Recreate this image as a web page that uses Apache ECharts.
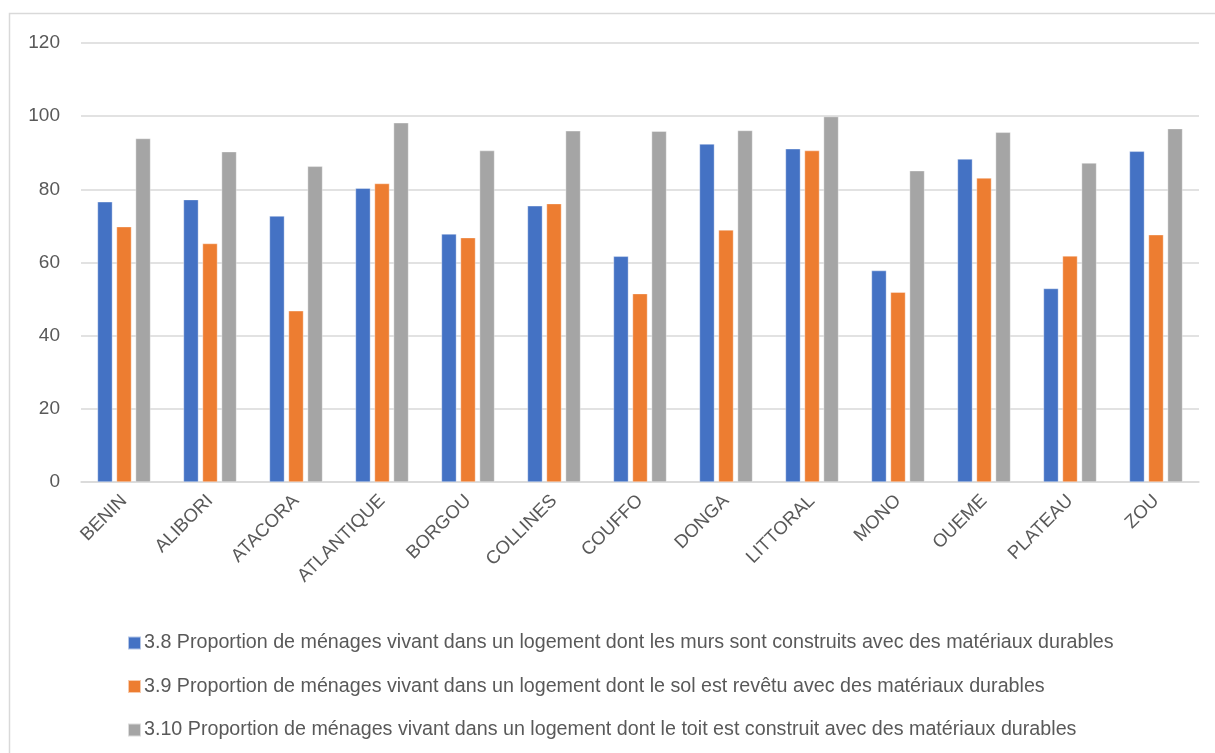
<!DOCTYPE html>
<html>
<head>
<meta charset="utf-8">
<script src="https://cdn.jsdelivr.net/npm/echarts@6/dist/echarts.min.js"></script>
<style>
  html, body { margin: 0; padding: 0; background: #ffffff; }
  #chart { width: 1215px; height: 753px; }
</style>
</head>
<body>
<div id="chart"></div>
<script>
// Départements du Bénin
const categories = ['BENIN', 'ALIBORI', 'ATACORA', 'ATLANTIQUE', 'BORGOU', 'COLLINES',
  'COUFFO', 'DONGA', 'LITTORAL', 'MONO', 'OUEME', 'PLATEAU', 'ZOU'];

const seriesNames = [
  '3.8 Proportion de ménages vivant dans un logement dont les murs sont construits avec des matériaux durables',
  '3.9 Proportion de ménages vivant dans un logement dont le sol est revêtu avec des matériaux durables',
  '3.10 Proportion de ménages vivant dans un logement dont le toit est construit avec des matériaux durables'
];

// Murs durables (%)
const murs = [76.6, 77.2, 72.7, 80.3, 67.8, 75.5, 61.7, 92.4, 91.1, 57.8, 88.3, 52.9, 90.4];
// Sol revêtu durable (%)
const sol = [69.8, 65.2, 46.8, 81.6, 66.8, 76.1, 51.5, 68.9, 90.6, 51.9, 83.1, 61.8, 67.6];
// Toit durable (%)
const toit = [93.9, 90.3, 86.3, 98.2, 90.6, 96.0, 95.9, 96.1, 99.9, 85.1, 95.6, 87.2, 96.6];

const yTicks = { min: 0, max: 120, interval: 20 };
const colors = ['#4472C4', '#ED7D31', '#A5A5A5'];

const font = '"Liberation Sans", Arial, sans-serif';

const chart = echarts.init(document.getElementById('chart'), null, { renderer: 'canvas' });

const makeSeries = (name, data, color) => ({
  name: name,
  type: 'bar',
  data: data,
  barWidth: 15,
  barGap: '27%',
  itemStyle: { color: color, borderColor: 'rgba(255,255,255,0.6)', borderWidth: 0.6 },
  emphasis: { disabled: true }
});

chart.setOption({
  backgroundColor: '#ffffff',
  animation: false,
  textStyle: { fontFamily: font },
  graphic: [{
    type: 'rect',
    shape: { x: 9.5, y: 13.5, width: 1220, height: 760 },
    style: { fill: 'none', stroke: '#d9d9d9', lineWidth: 1.5 },
    silent: true
  }],
  grid: { left: 81, right: 16, top: 43, bottom: 271, containLabel: false },
  legend: {
    orient: 'vertical',
    left: 122,
    top: 628,
    itemWidth: 13,
    itemHeight: 13,
    itemGap: 23.5,
    icon: 'rect',
    selectedMode: false,
    textStyle: { fontSize: 19.7, color: '#595959', fontFamily: font, padding: [0, 0, 0, -2] },
    data: seriesNames
  },
  xAxis: {
    type: 'category',
    data: categories,
    axisLine: { show: true, lineStyle: { color: '#d9d9d9', width: 1.5 } },
    axisTick: { show: false },
    axisLabel: {
      rotate: 45,
      margin: 16,
      interval: 0,
      fontSize: 18.5,
      color: '#595959',
      fontFamily: font
    }
  },
  yAxis: {
    type: 'value',
    min: yTicks.min,
    max: yTicks.max,
    interval: yTicks.interval,
    axisLine: { show: false },
    axisTick: { show: false },
    splitLine: { lineStyle: { color: '#d9d9d9', width: 1.5 } },
    axisLabel: {
      margin: 21,
      fontSize: 19,
      color: '#595959',
      fontFamily: font
    }
  },
  series: [
    makeSeries(seriesNames[0], murs, colors[0]),
    makeSeries(seriesNames[1], sol, colors[1]),
    makeSeries(seriesNames[2], toit, colors[2])
  ]
});
</script>
</body>
</html>
